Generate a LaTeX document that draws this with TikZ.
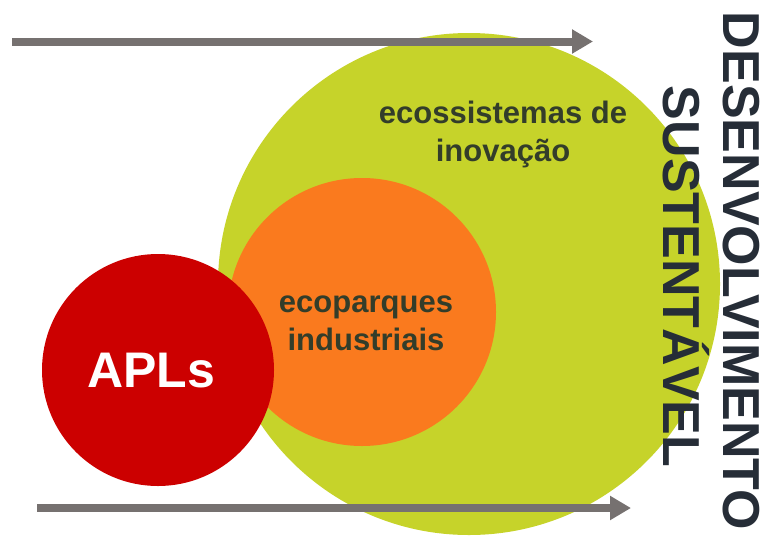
\documentclass[tikz,border=0pt]{standalone}
\usepackage{fontspec}
\setmainfont{Liberation Sans}
\usetikzlibrary{arrows.meta}
\definecolor{cgreen}{HTML}{C6D32A}
\definecolor{corange}{HTML}{FA7A1E}
\definecolor{cred}{HTML}{CC0000}
\definecolor{carrow}{HTML}{767170}
\definecolor{ctext}{HTML}{333D2A}
\definecolor{cnavy}{HTML}{262D37}
\tikzset{
  bubble/.style={circle, inner sep=0pt, minimum size=#1},
  flow/.style={carrow, line width=8pt, -{Triangle[length=21pt,width=23pt]}},
  inlabel/.style={font=\fontsize{31}{38}\selectfont\bfseries, text=ctext, align=center, anchor=base},
  vlabel/.style={font=\fontsize{52}{60}\selectfont\bfseries, text=cnavy, rotate=-90, inner sep=0pt, text height=37.5pt, text depth=0pt, anchor=base}
}
\begin{document}
\begin{tikzpicture}[x=1pt,y=-1pt]
\useasboundingbox (0,0) rectangle (762,538);
\node[bubble=502pt, fill=cgreen] (eco) at (469,284) {};
\node[bubble=268pt, fill=corange] (park) at (362,312) {};
\node[bubble=232pt, fill=cred] (apl) at (158,370) {};
\node[inlabel] (ecot) at (503,161) {ecossistemas de\\inovação};
\node[inlabel] (parkt) at (366,350) {ecoparques\\industriais};
\node[font=\fontsize{50}{60}\selectfont\bfseries, text=white, anchor=base] (aplt) at (151,387) {APLs};
\coordinate (a1s) at (12,41.5);
\coordinate (a1e) at (593,41.5);
\coordinate (a2s) at (37,508);
\coordinate (a2e) at (631,508);
\draw[flow] (a1s) -- (a1e);
\draw[flow] (a2s) -- (a2e);
\node[vlabel] (des) at (723,271) {DESENVOLVIMENTO};
\node[vlabel] (sus) at (663,276.5) {SUSTENTÁVEL};
\end{tikzpicture}
\end{document}
